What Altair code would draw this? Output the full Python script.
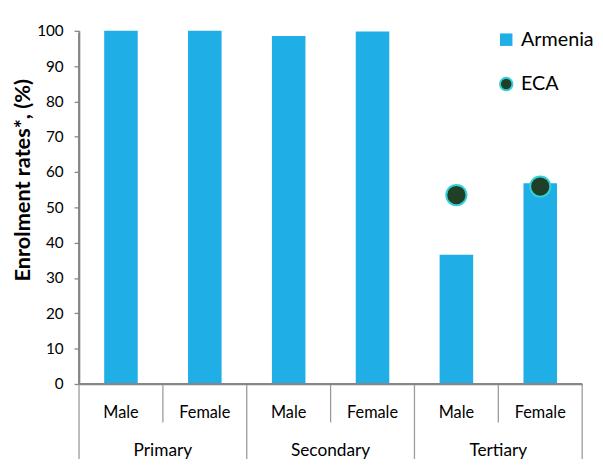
import altair as alt
import pandas as pd

levels = ["Primary", "Primary", "Secondary", "Secondary", "Tertiary", "Tertiary"]
sexes = ["Male", "Female", "Male", "Female", "Male", "Female"]
armenia = [100.0, 100.0, 98.5, 99.8, 36.6, 56.8]
eca = [None, None, None, None, 53.5, 55.9]
group_names = ["Primary", "Secondary", "Tertiary"]
group_centers = [1, 3, 5]
short_dividers = [1, 3, 5]
long_dividers = [0, 2, 4, 6]
axis_start = [0]
axis_end = [6]

keys = [f"{l}|{s}" for l, s in zip(levels, sexes)]
df = pd.DataFrame({"key": keys, "level": levels, "sex": sexes,
                   "armenia": armenia, "eca": eca})
df["s1"] = "Armenia"
df["s2"] = "ECA"
df_eca = df.dropna(subset=["eca"])

groups_df = pd.DataFrame({"pos": group_centers, "name": group_names})
short_df = pd.DataFrame({"pos": short_dividers})
long_df = pd.DataFrame({"pos": long_dividers})
axis_df = pd.DataFrame({"start": axis_start, "end": axis_end})

W, H = 510, 358
FONT = "Lato"
GRAY = "#868686"
DIV = "#9A9A9A"
BLUE = "#1FAEE5"
DARK = "#1F4027"
CYAN = "#33D0D8"

xscale = alt.Scale(domain=keys, paddingInner=0.6, paddingOuter=0.3)
yscale = alt.Scale(domain=[0, 100], nice=False)
xaxis = alt.Axis(title=None, ticks=False, domain=True, domainColor=GRAY,
                 domainWidth=1.6,
                 labelExpr="split(datum.label,'|')[1]",
                 labelAngle=0, labelFontSize=16.5, labelFont=FONT,
                 labelColor="#000", labelPadding=21, grid=False)
yaxis = alt.Axis(values=list(range(0, 101, 10)), title="Enrolment rates*, (%)",
                 titleFontSize=22, titleFontWeight="bold", titleColor="#000",
                 titleFont=FONT, titlePadding=2, titleY=151,
                 labelFontSize=15.5, labelFont=FONT, labelColor="#000",
                 labelPadding=11, tickSize=5, tickColor=GRAY, tickWidth=1.3,
                 domain=True, domainColor=GRAY, domainWidth=1.6, grid=False)

bars = alt.Chart(df).mark_bar().encode(
    x=alt.X("key:N", scale=xscale, axis=xaxis),
    y=alt.Y("armenia:Q", scale=yscale, axis=yaxis),
    color=alt.Color("s1:N", scale=alt.Scale(domain=["Armenia"], range=[BLUE]),
                    legend=alt.Legend(title=None, orient="none", legendX=423,
                                      legendY=-1, symbolType="square",
                                      symbolSize=160, labelFontSize=20,
                                      labelFont=FONT, labelColor="#000",
                                      labelOffset=5, padding=0)),
)

points = alt.Chart(df_eca).mark_point(filled=True, size=420, stroke=CYAN,
                                      strokeWidth=2, opacity=1).encode(
    x=alt.X("key:N", scale=xscale, axis=xaxis),
    y=alt.Y("eca:Q", scale=yscale, axis=yaxis),
    fill=alt.Fill("s2:N", scale=alt.Scale(domain=["ECA"], range=[DARK]),
                  legend=alt.Legend(title=None, orient="none", legendX=423,
                                    legendY=44, symbolType="circle",
                                    symbolSize=160, symbolStrokeColor=CYAN,
                                    symbolStrokeWidth=2, labelFontSize=20,
                                    labelFont=FONT, labelColor="#000",
                                    labelOffset=5, padding=0)),
)

dscale = alt.Scale(domain=[0, 6], nice=False, zero=False)

short_rules = alt.Chart(short_df).mark_rule(color=DIV, strokeWidth=1.3).encode(
    x=alt.X("pos:Q", scale=dscale, axis=None),
    y=alt.value(H), y2=alt.value(H + 39),
)
long_rules = alt.Chart(long_df).mark_rule(color=DIV, strokeWidth=1.3).encode(
    x=alt.X("pos:Q", scale=dscale, axis=None),
    y=alt.value(H), y2=alt.value(H + 76),
)
# y axis line drawn again as a mark (backs up the axis domain)
y_line = alt.Chart(axis_df).mark_rule(color=GRAY, strokeWidth=2).encode(
    x=alt.X("start:Q", scale=dscale, axis=None),
    y=alt.value(2), y2=alt.value(H),
)
# x axis line drawn again as a mark
x_line = alt.Chart(axis_df).mark_rule(color=GRAY, strokeWidth=2).encode(
    x=alt.X("start:Q", scale=dscale, axis=None),
    x2="end:Q",
    y=alt.value(H),
)
group_text = alt.Chart(groups_df).mark_text(fontSize=17.5, font=FONT, color="#000",
                                            baseline="middle").encode(
    x=alt.X("pos:Q", scale=dscale, axis=None),
    y=alt.value(H + 68),
    text="name:N",
)

main = alt.layer(bars, points)
deco = alt.layer(short_rules, long_rules, y_line, x_line, group_text)

chart = alt.layer(main, deco).resolve_scale(x="independent").properties(
    width=W, height=H,
    autosize=alt.AutoSizeParams(type="none"),
    padding={"left": 72, "top": 20, "right": 13, "bottom": 78},
).configure_view(stroke=None).configure_legend(orient="none")

chart.save("out.html", embed_options={"renderer": "svg", "actions": False})
